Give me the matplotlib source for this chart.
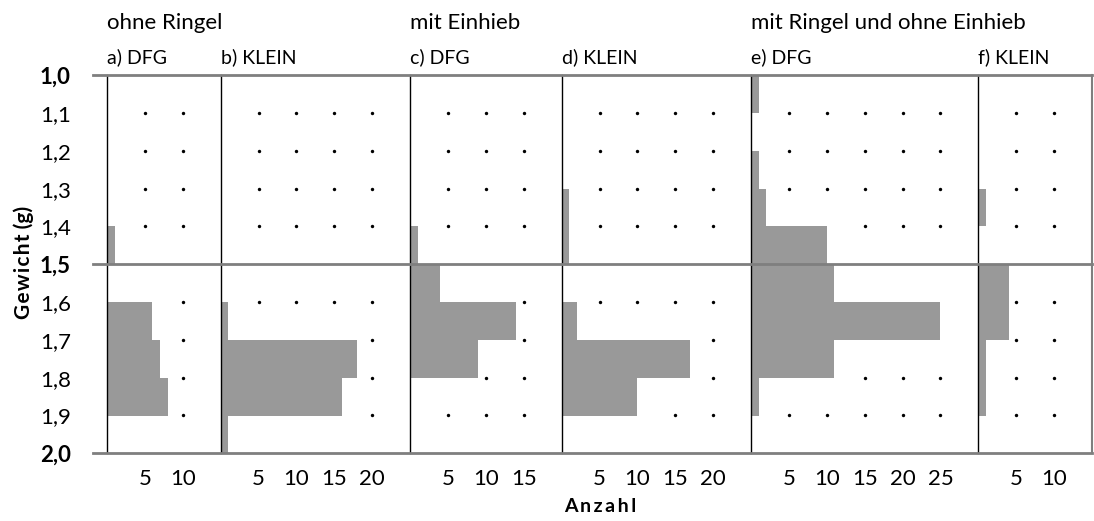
import matplotlib.pyplot as plt
import matplotlib.transforms as mtransforms
from matplotlib.lines import Line2D
import numpy as np

plt.rcParams["font.family"] = ["Lato", "DejaVu Sans"]

# bin lower edges, 1.0 .. 1.9 (bin width 0.1)
bin_edges = [1.0, 1.1, 1.2, 1.3, 1.4, 1.5, 1.6, 1.7, 1.8, 1.9]

panel_labels = ["a) DFG", "b) KLEIN", "c) DFG", "d) KLEIN", "e) DFG", "f) KLEIN"]
group_titles = ["ohne Ringel", "mit Einhieb", "mit Ringel und ohne Einhieb"]
group_starts = [0, 2, 4]

counts_a = [0, 0, 0, 0, 1, 0, 6, 7, 8, 0]
counts_b = [0, 0, 0, 0, 0, 0, 1, 18, 16, 1]
counts_c = [0, 0, 0, 0, 1, 4, 14, 9, 0, 0]
counts_d = [0, 0, 0, 1, 1, 0, 2, 17, 10, 0]
counts_e = [1, 0, 1, 2, 10, 11, 25, 11, 1, 0]
counts_f = [0, 0, 0, 1, 0, 4, 4, 1, 1, 0]
all_counts = [counts_a, counts_b, counts_c, counts_d, counts_e, counts_f]

x_max = [15, 25, 20, 25, 30, 15]
x_ticks = [[5, 10], [5, 10, 15, 20], [5, 10, 15], [5, 10, 15, 20],
           [5, 10, 15, 20, 25], [5, 10]]

y_ticks = [1.0, 1.1, 1.2, 1.3, 1.4, 1.5, 1.6, 1.7, 1.8, 1.9, 2.0]
y_ticklabels = ["1,0", "1,1", "1,2", "1,3", "1,4", "1,5", "1,6", "1,7", "1,8", "1,9", "2,0"]
bold_ticks = ["1,0", "1,5", "2,0"]
dot_rows = [1.1, 1.2, 1.3, 1.4, 1.6, 1.7, 1.8, 1.9]

bar_color = "#999999"
rule_color = "#7f7f7f"

fig = plt.figure(figsize=(10.94, 5.21), dpi=100)
gs = fig.add_gridspec(1, 6, width_ratios=x_max, wspace=0,
                      left=107 / 1094, right=1092 / 1094,
                      bottom=1 - 453.3 / 521, top=1 - 75.3 / 521)
axes = [fig.add_subplot(gs[0, i]) for i in range(6)]

for i, ax in enumerate(axes):
    counts = np.array(all_counts[i])
    ax.barh(bin_edges, counts, height=0.1, align="edge", color=bar_color,
            linewidth=0, zorder=2)

    # grid dots, hidden where a neighbouring bar reaches them
    for y in dot_rows:
        k = int(round((y - 1.0) * 10))
        reach = max(counts[k - 1], counts[k])
        xs = [t for t in x_ticks[i] if t > reach]
        ax.scatter(xs, [y] * len(xs), s=6, color="black", zorder=3, linewidths=0)

    ax.set_xlim(0, x_max[i])
    ax.set_ylim(2.0, 1.0)
    ax.set_xticks(x_ticks[i])
    ax.set_xticklabels([str(t) for t in x_ticks[i]], fontsize=16)
    ax.tick_params(axis="x", length=0, pad=11)
    for side in ["top", "bottom"]:
        ax.spines[side].set_visible(False)
    ax.spines["left"].set_linewidth(1.0)
    ax.spines["left"].set_color("black")
    ax.spines["right"].set_visible(i == 5)
    ax.spines["right"].set_color(rule_color)
    ax.spines["right"].set_linewidth(1.5)

    if i == 0:
        ax.set_yticks(y_ticks)
        ax.set_yticklabels(y_ticklabels, fontsize=16)
        for lab in ax.get_yticklabels():
            if lab.get_text() in bold_ticks:
                lab.set_fontweight("bold")
        ax.tick_params(axis="y", length=0, pad=26)
    else:
        ax.set_yticks([])

    ax.text(0, 1.033, panel_labels[i], transform=ax.transAxes, fontsize=14,
            ha="left", va="baseline")

for title, start in zip(group_titles, group_starts):
    axes[start].text(0, 1.122, title, transform=axes[start].transAxes,
                     fontsize=16, ha="left", va="baseline")

# horizontal rules at 1,0 / 1,5 / 2,0 reaching left past the first panel
trans = mtransforms.blended_transform_factory(fig.transFigure, axes[0].transData)
for y in [1.0, 1.5, 2.0]:
    fig.add_artist(Line2D([93 / 1094, 1092 / 1094], [y, y], transform=trans,
                          color=rule_color, linewidth=2, zorder=5))

fig.text(600 / 1094, 1 - 507 / 521, "A\u2009n\u2009z\u2009a\u2009h\u2009l", fontsize=14,
         fontweight="bold", ha="center", va="center")
fig.text(24 / 1094, 1 - 262 / 521, "G\u200ae\u200aw\u200ai\u200ac\u200ah\u200at (g)",
         fontsize=15, fontweight="bold", ha="center", va="center", rotation=90)

fig.savefig("out.png", dpi=100)
